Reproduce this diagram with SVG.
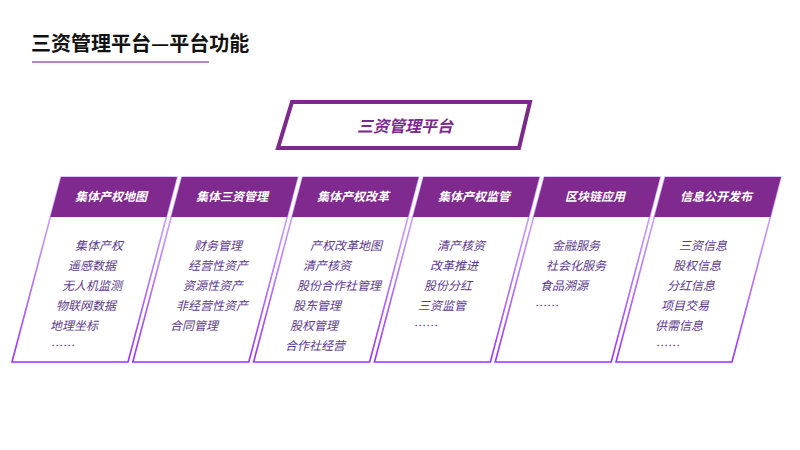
<svg xmlns="http://www.w3.org/2000/svg" width="800" height="450" viewBox="0 0 800 450">
<defs>
<linearGradient id="edge" x1="0" y1="0" x2="0" y2="1">
<stop offset="0" stop-color="#d7b8ff"/>
<stop offset="0.5" stop-color="#b87aff"/>
<stop offset="1" stop-color="#9b30ff"/>
</linearGradient>
<style>
.cjk{font-family:"Noto Sans CJK SC","Noto Sans",sans-serif;}
.title{font-size:20px;font-weight:bold;fill:#111;}
.card{fill:#fff;stroke:url(#edge);stroke-width:1.6;}
.head{fill:#80298e;}
.htext{font-size:12px;font-weight:bold;font-style:italic;fill:#fff;text-anchor:middle;}
.item{font-size:12px;font-style:italic;fill:#5b3a8c;}
.main{fill:#fff;stroke:#7b2a8c;stroke-width:4;}
.mtext{font-size:16px;font-weight:bold;font-style:italic;fill:#7b2a8c;text-anchor:middle;}
</style>
</defs>
<rect width="800" height="450" fill="#fff"/>
<g id="title">
<text class="cjk title" x="31" y="51">三资管理平台—平台功能</text>
<line x1="32" y1="62" x2="209" y2="62" stroke="#a25dc5" stroke-width="1.5"/>
</g>
<g id="platform">
<polygon class="main" points="292,102 530,102 519,148 278,148"/>
<text class="cjk mtext" x="405" y="132">三资管理平台</text>
</g>
<g id="connectors"></g>
<g id="card1">
<polygon class="card" points="61,177 177,177 128,362 12,362"/>
<polygon class="head" points="61,177 177,177 166.4,217 50.4,217"/>
<text class="cjk htext" x="111" y="201">集体产权地图</text>
<text class="cjk item" x="75" y="250">集体产权</text>
<text class="cjk item" x="68" y="270">遥感数据</text>
<text class="cjk item" x="62" y="290">无人机监测</text>
<text class="cjk item" x="56" y="310">物联网数据</text>
<text class="cjk item" x="50" y="330">地理坐标</text>
<text class="cjk item" x="50" y="350">……</text>
</g>
<g id="card2">
<polygon class="card" points="181.8,177 297.8,177 248.8,362 132.8,362"/>
<polygon class="head" points="181.8,177 297.8,177 287.2,217 171.2,217"/>
<text class="cjk htext" x="232" y="201">集体三资管理</text>
<text class="cjk item" x="194" y="250">财务管理</text>
<text class="cjk item" x="188" y="270">经营性资产</text>
<text class="cjk item" x="183" y="290">资源性资产</text>
<text class="cjk item" x="176" y="310">非经营性资产</text>
<text class="cjk item" x="170" y="330">合同管理</text>
</g>
<g id="card3">
<polygon class="card" points="302.6,177 418.6,177 369.6,362 253.6,362"/>
<polygon class="head" points="302.6,177 418.6,177 408,217 292,217"/>
<text class="cjk htext" x="353" y="201">集体产权改革</text>
<text class="cjk item" x="310" y="250">产权改革地图</text>
<text class="cjk item" x="303" y="270">清产核资</text>
<text class="cjk item" x="297" y="290">股份合作社管理</text>
<text class="cjk item" x="293" y="310">股东管理</text>
<text class="cjk item" x="290" y="330">股权管理</text>
<text class="cjk item" x="285" y="350">合作社经营</text>
</g>
<g id="card4">
<polygon class="card" points="423.4,177 539.4,177 490.4,362 374.4,362"/>
<polygon class="head" points="423.4,177 539.4,177 528.8,217 412.8,217"/>
<text class="cjk htext" x="474" y="201">集体产权监管</text>
<text class="cjk item" x="437" y="250">清产核资</text>
<text class="cjk item" x="430" y="270">改革推进</text>
<text class="cjk item" x="424" y="290">股份分红</text>
<text class="cjk item" x="418" y="310">三资监管</text>
<text class="cjk item" x="413" y="330">……</text>
</g>
<g id="card5">
<polygon class="card" points="544.2,177 660.2,177 611.2,362 495.2,362"/>
<polygon class="head" points="544.2,177 660.2,177 649.6,217 533.6,217"/>
<text class="cjk htext" x="595" y="201">区块链应用</text>
<text class="cjk item" x="552" y="250">金融服务</text>
<text class="cjk item" x="546" y="270">社会化服务</text>
<text class="cjk item" x="540" y="290">食品溯源</text>
<text class="cjk item" x="534" y="310">……</text>
</g>
<g id="card6">
<polygon class="card" points="665,177 781,177 732,362 616,362"/>
<polygon class="head" points="665,177 781,177 770.4,217 654.4,217"/>
<text class="cjk htext" x="716" y="201">信息公开发布</text>
<text class="cjk item" x="679" y="250">三资信息</text>
<text class="cjk item" x="673" y="270">股权信息</text>
<text class="cjk item" x="667" y="290">分红信息</text>
<text class="cjk item" x="661" y="310">项目交易</text>
<text class="cjk item" x="655" y="330">供需信息</text>
<text class="cjk item" x="655" y="350">……</text>
</g>
</svg>
